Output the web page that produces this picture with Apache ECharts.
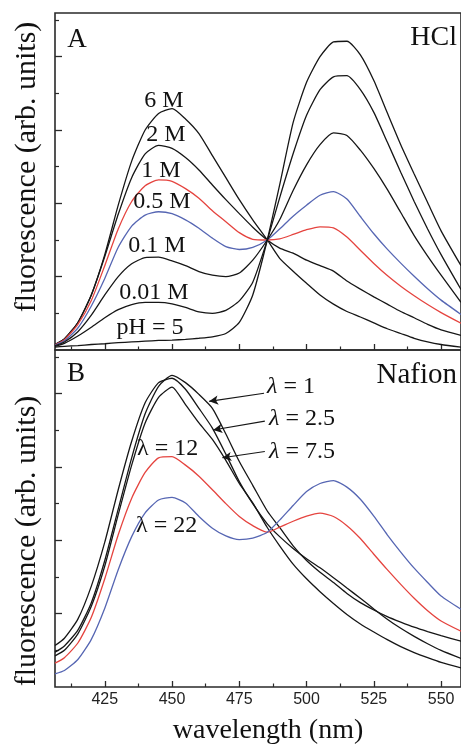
<!DOCTYPE html>
<html><head><meta charset="utf-8">
<script src="https://cdn.jsdelivr.net/npm/echarts@6/dist/echarts.min.js"></script>
<style>html,body{margin:0;padding:0;background:#fff}#c{width:461px;height:746px}</style>
</head><body><div id="c"></div>
<script>
// wavelength grid (nm), shared by both panels
const wavelengths = [406.5,410,415,420,425,430,435,440,445,450,455,460,465,470,475,480,485.4,490,495,500,505,510,515,520,525,530,535,540,545,550,557.4];

// Panel A: HCl
const hcl6M   = [0.15,0.3,0.75,1.5,2.6,3.95,5.15,6.0,6.45,6.58,6.3,5.9,5.3,4.7,4.1,3.55,3.0,2.5,2.15,1.82,1.5,1.25,1.05,0.9,0.74,0.58,0.45,0.32,0.22,0.15,0.08];
const hcl2M   = [0.15,0.3,0.75,1.5,2.55,3.7,4.7,5.35,5.58,5.5,5.25,4.91,4.5,4.1,3.72,3.35,3.0,2.78,2.64,2.45,2.3,2.15,1.88,1.66,1.45,1.25,1.05,0.88,0.7,0.55,0.4];
const hcl1M   = [0.14,0.28,0.7,1.35,2.3,3.3,4.05,4.48,4.64,4.6,4.4,4.14,3.8,3.5,3.2,3.02,3.0,3.03,3.15,3.28,3.36,3.33,3.08,2.72,2.36,2.03,1.74,1.48,1.24,1.02,0.73];
const hcl05M  = [0.13,0.25,0.6,1.2,1.95,2.8,3.38,3.68,3.77,3.72,3.55,3.32,3.05,2.82,2.74,2.8,3.0,3.3,3.65,3.95,4.22,4.32,4.12,3.64,3.17,2.75,2.37,2.01,1.67,1.36,0.97];
const hcl01M  = [0.12,0.22,0.5,0.95,1.5,2.0,2.35,2.52,2.53,2.43,2.3,2.14,2.04,2.0,2.1,2.45,3.0,3.55,4.35,5.05,5.6,5.92,5.85,5.45,4.95,4.38,3.75,3.12,2.56,2.04,1.3];
const hcl001M = [0.1,0.18,0.38,0.62,0.88,1.1,1.24,1.3,1.3,1.26,1.16,1.04,1.0,1.08,1.34,1.85,3.0,4.15,5.35,6.4,7.1,7.45,7.48,7.1,6.48,5.67,4.85,4.05,3.3,2.6,1.65];
const hclPH5  = [0.08,0.1,0.12,0.15,0.17,0.2,0.22,0.24,0.26,0.27,0.29,0.32,0.36,0.45,0.75,1.5,3.0,4.5,6.2,7.3,8.0,8.4,8.42,8.05,7.35,6.47,5.6,4.8,4.02,3.25,2.3];

// Panel B: Nafion
const naf1    = [0.95,1.12,1.55,2.3,3.45,4.85,6.25,7.45,8.2,8.5,8.3,7.98,7.6,6.9,6.15,5.5,4.8,4.35,3.85,3.45,3.13,2.85,2.55,2.3,2.1,1.92,1.77,1.63,1.51,1.4,1.25];
const naf25   = [1.13,1.33,1.85,2.75,3.95,5.38,6.7,7.75,8.3,8.42,8.12,7.6,7.06,6.35,5.6,5.0,4.45,4.1,3.78,3.5,3.25,2.98,2.7,2.42,2.13,1.85,1.6,1.38,1.18,1.0,0.78];
const naf75   = [0.85,1.0,1.45,2.2,3.3,4.7,6.05,7.2,7.9,8.18,7.7,7.2,6.75,6.18,5.55,5.02,4.35,3.85,3.35,2.95,2.6,2.28,1.98,1.72,1.5,1.29,1.1,0.94,0.8,0.67,0.52];
const naf12   = [0.65,0.8,1.2,1.9,2.95,4.15,5.15,5.85,6.25,6.28,6.05,5.75,5.38,5.0,4.65,4.4,4.22,4.36,4.52,4.66,4.74,4.65,4.4,4.05,3.62,3.2,2.8,2.42,2.08,1.8,1.52];
const naf22   = [0.36,0.45,0.75,1.3,2.15,3.2,4.1,4.75,5.1,5.17,5.02,4.65,4.33,4.12,4.02,4.06,4.22,4.55,4.95,5.33,5.55,5.63,5.45,5.12,4.66,4.15,3.68,3.24,2.85,2.48,2.12];

// axis ticks
const xRange = [406.5, 557.4];
const yRange = [0, 9.19];
const xMajorTicks = [425,450,475,500,525,550];
const xMinorTicks = [412.5,437.5,462.5,487.5,512.5,537.5];
const yMajorTicks = [2,4,6,8];
const yMinorTicks = [1,3,5,7,9];

// annotation arrows (data coordinates: from label to curve)
const arrowL1  = [[484.2, 8.01],[463.8, 7.79]];
const arrowL25 = [[484.5, 7.25],[465.3, 7.01]];
const arrowL75 = [[484.5, 6.42],[468.7, 6.25]];

const BLACK = '#161616', RED = '#e5443f', BLUE = '#5666b3', AX = '#2a2a2a';
const SERIF = '"Liberation Serif","Times New Roman",serif';

function pairs(ys){ return wavelengths.map((x,i)=>[x, ys[i]]); }

function xAxes(gi, showLabels){
  return [
    {gridIndex:gi, type:'value', min:xRange[0], max:xRange[1], position:'bottom',
     axisLine:{show:false}, splitLine:{show:false},
     axisTick:{show:true, inside:true, length:6, customValues:xMajorTicks, lineStyle:{color:AX, width:1.3}},
     axisLabel: showLabels ? {show:true, customValues:xMajorTicks, margin:5, fontFamily:'"Liberation Sans",Arial,sans-serif', fontSize:16, color:'#222'} : {show:false}},
    {gridIndex:gi, type:'value', min:xRange[0], max:xRange[1], position:'bottom',
     axisLine:{show:false}, splitLine:{show:false}, axisLabel:{show:false},
     axisTick:{show:true, inside:true, length:3.5, customValues:xMinorTicks, lineStyle:{color:AX, width:1.2}}}
  ];
}
function yAxes(gi){
  return [
    {gridIndex:gi, type:'value', min:yRange[0], max:yRange[1], position:'left',
     axisLine:{show:false}, splitLine:{show:false}, axisLabel:{show:false},
     axisTick:{show:true, inside:true, length:7, customValues:yMajorTicks, lineStyle:{color:AX, width:1.3}}},
    {gridIndex:gi, type:'value', min:yRange[0], max:yRange[1], position:'left',
     axisLine:{show:false}, splitLine:{show:false}, axisLabel:{show:false},
     axisTick:{show:true, inside:true, length:4, customValues:yMinorTicks, lineStyle:{color:AX, width:1.2}}}
  ];
}
function line(name, ys, color, xi, yi, extra){
  return Object.assign({name, type:'line', xAxisIndex:xi, yAxisIndex:yi, data:pairs(ys),
    showSymbol:false, smooth:0.2, lineStyle:{color, width:1.3}, itemStyle:{color}, z:3, silent:true, animation:false}, extra||{});
}
function txt(text, x, y, size, align, extra){
  return Object.assign({type:'text', x, y, z:10, silent:true,
    style:{text, fontFamily:SERIF, fontSize:size, fill:'#111', align:align||'center', verticalAlign:'middle'}}, extra||{});
}
const lamRich = {i:{fontStyle:'italic', fontFamily:SERIF, fontSize:24, fill:'#111'}};
function lamTxt(val, x, y){
  return {type:'text', x, y, z:10, silent:true,
    style:{text:'{i|λ} = '+val, rich:lamRich, fontFamily:SERIF, fontSize:24, fill:'#111', align:'left', verticalAlign:'middle'}};
}

const arrowMark = {
  silent:true, symbol:['none','arrow'], symbolSize:[7,9], animation:false,
  lineStyle:{color:BLACK, width:1.1, type:'solid'}, label:{show:false},
  data:[arrowL1, arrowL25, arrowL75].map(a=>[{coord:a[0]},{coord:a[1]}])
};

const chart = echarts.init(document.getElementById('c'), null, {renderer:'canvas'});
chart.setOption({
  animation:false,
  backgroundColor:'#fff',
  grid:[
    {left:55, top:13, right:-2, height:337, show:true, borderColor:AX, borderWidth:1.6, backgroundColor:'transparent'},
    {left:55, top:350, right:-2, height:337, show:true, borderColor:AX, borderWidth:1.6, backgroundColor:'transparent'}
  ],
  xAxis:[...xAxes(0,false), ...xAxes(1,true)],
  yAxis:[...yAxes(0), ...yAxes(1)],
  series:[
    line('6 M', hcl6M, BLACK, 0, 0),
    line('2 M', hcl2M, BLACK, 0, 0),
    line('1 M', hcl1M, RED, 0, 0),
    line('0.5 M', hcl05M, BLUE, 0, 0),
    line('0.1 M', hcl01M, BLACK, 0, 0),
    line('0.01 M', hcl001M, BLACK, 0, 0),
    line('pH = 5', hclPH5, BLACK, 0, 0),
    line('λ = 1', naf1, BLACK, 2, 2, {markLine:arrowMark}),
    line('λ = 2.5', naf25, BLACK, 2, 2),
    line('λ = 7.5', naf75, BLACK, 2, 2),
    line('λ = 12', naf12, RED, 2, 2),
    line('λ = 22', naf22, BLUE, 2, 2)
  ],
  graphic:[
    txt('A', 77, 40, 27),
    txt('HCl', 457, 38, 28, 'right'),
    txt('B', 76, 374, 27),
    txt('Nafion', 457, 375, 29, 'right'),
    txt('6 M', 164, 101, 24),
    txt('2 M', 166, 135, 24),
    txt('1 M', 161, 171, 24),
    txt('0.5 M', 162, 202, 24),
    txt('0.1 M', 157, 246, 24),
    txt('0.01 M', 154, 293, 24),
    txt('pH = 5', 150, 328, 24),
    txt('λ = 12', 137, 449, 24, 'left'),
    txt('λ = 22', 136, 526, 24, 'left'),
    lamTxt('1', 267, 387),
    lamTxt('2.5', 269, 419),
    lamTxt('7.5', 269, 452),
    txt('fluorescence (arb. units)', 27, 167, 30, 'center', {rotation:Math.PI/2}),
    txt('fluorescence (arb. units)', 27, 541, 30, 'center', {rotation:Math.PI/2}),
    txt('wavelength (nm)', 268, 731, 28)
  ]
});
</script></body></html>
